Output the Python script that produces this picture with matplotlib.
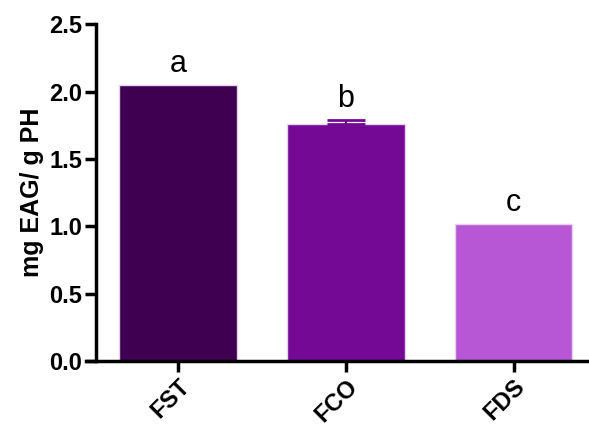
import matplotlib.pyplot as plt

plt.rcParams['font.family'] = ['Liberation Sans', 'DejaVu Sans']

groups = ["FST", "FCO", "FDS"]
values = [2.05, 1.76, 1.02]
errors = [0.0, 0.03, 0.0]
letters = ["a", "b", "c"]
colors = ["#3f0052", "#730995", "#b857d6"]

fig = plt.figure(figsize=(5.89, 4.30), dpi=100)
ax = fig.add_axes([0.163, 0.16, 0.837, 0.784])

x = range(len(groups))
ax.bar(x, values, width=0.7, color=colors, edgecolor="#e6d3ee", linewidth=1)
for i in x:
    if errors[i] > 0:
        ax.errorbar(i, values[i], yerr=[[0], [errors[i]]], color=colors[i],
                    capsize=14, capthick=2, elinewidth=1.5)
    ax.text(i, values[i] + errors[i] + 0.045, letters[i], ha="center", va="bottom",
            fontsize=22)

ax.set_xlim(-0.49, 2.45)
ax.set_ylim(0, 2.5)
ax.set_yticks([0.0, 0.5, 1.0, 1.5, 2.0, 2.5])
ax.set_yticklabels(["0.0", "0.5", "1.0", "1.5", "2.0", "2.5"], fontweight="bold", fontsize=17)
ax.set_xticks(list(x))
ax.set_xticklabels(groups, rotation=45, ha="right", rotation_mode="anchor",
                   fontweight="bold", fontsize=17)
ax.set_ylabel("mg EAG/ g PH", fontweight="bold", fontsize=18, labelpad=4)

ax.spines["top"].set_visible(False)
ax.spines["right"].set_visible(False)
ax.spines["left"].set_linewidth(2.5)
ax.spines["bottom"].set_linewidth(2.5)
ax.spines["bottom"].set_bounds(-0.55, 2.45)
ax.tick_params(axis="both", width=2.5, length=8, pad=2)

fig.savefig("out.png", dpi=100)
